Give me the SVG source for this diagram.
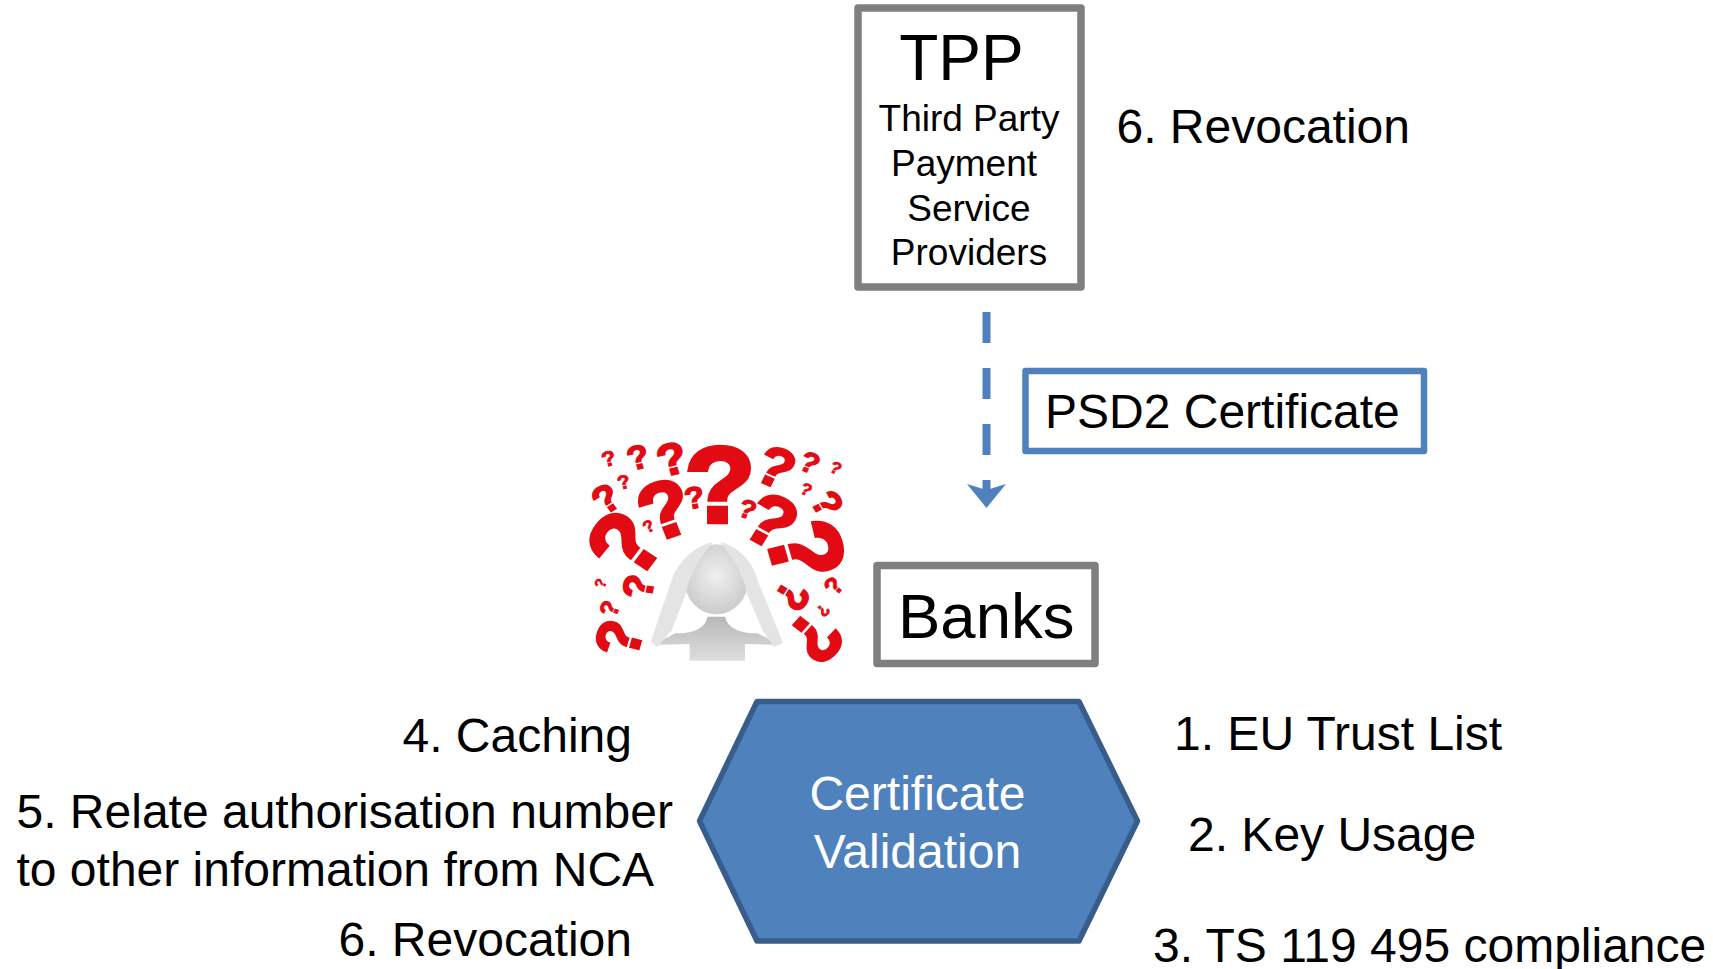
<svg xmlns="http://www.w3.org/2000/svg" width="1713" height="969" viewBox="0 0 1713 969">
<style>
text{font-family:"Liberation Sans",Arial,sans-serif;fill:#000}
.box{fill:#fff;stroke:#7f7f7f;stroke-width:7.5;stroke-linejoin:round}
.l{font-size:48px}
.s{font-size:37px;text-anchor:middle}
.q{font-weight:bold;fill:#e30b13;text-anchor:middle;stroke:#e30b13;stroke-width:.04em}
.p{fill:#e4e4e4}
</style>
<defs>
<radialGradient id="head" cx="0.5" cy="0.45" r="0.6"><stop offset="0" stop-color="#efefef"/><stop offset="1" stop-color="#c8c8c8"/></radialGradient>
<linearGradient id="body" x1="0" y1="0" x2="0" y2="1"><stop offset="0" stop-color="#b8b8b8"/><stop offset="1" stop-color="#dedede"/></linearGradient>
</defs>
<g id="connectors">
<line x1="986.500" y1="312" x2="986.500" y2="496" stroke="#4f81bd" stroke-width="8" stroke-dasharray="31 25"/>
<path d="M967,484 L986.500,490 L1006,484 L986.500,508 Z" fill="#4f81bd"/>
</g>
<g id="tpp">
<rect class="box" x="858" y="8" width="223" height="279"/>
<text x="961.500" y="80" font-size="64" text-anchor="middle">TPP</text>
<text class="s" x="969" y="131">Third Party</text>
<text class="s" x="964" y="176">Payment</text>
<text class="s" x="969" y="221">Service</text>
<text class="s" x="969" y="265">Providers</text>
</g>
<g id="label-revocation-top"><text class="l" x="1116.500" y="143">6. Revocation</text></g>
<g id="psd2">
<rect x="1025.500" y="371" width="398.500" height="80" fill="#fff" stroke="#4f81bd" stroke-width="6.500" stroke-linejoin="round"/>
<text class="l" x="1045" y="428">PSD2 Certificate</text>
</g>
<g id="confused-person" transform="translate(570,420) scale(.357,.3333)">
<path d="M385,590 L435,590 C440,625 480,640 525,640 L590,675 L490,672 L490,722 L335,722 L335,672 L232,675 L295,640 C345,640 380,625 385,590Z" fill="url(#body)"/>
<ellipse cx="410" cy="478" rx="90" ry="105" fill="url(#head)"/>
<path class="p" d="M400,366 C345,380 300,430 285,480 L226,665 L245,682 L285,630 L325,520 C335,460 360,420 400,366Z"/>
<path class="p" d="M420,366 C475,380 515,430 525,480 L597,668 L572,682 L540,632 L495,520 C485,460 460,420 420,366Z"/>
<g class="qs">
<text class="q" font-size="64" transform="translate(108,115) rotate(-15)" dy=".36em">?</text>
<text class="q" font-size="100" transform="translate(190,110) rotate(-15)" dy=".36em">?</text>
<text class="q" font-size="134" transform="translate(285,115) rotate(-15)" dy=".36em">?</text>
<text class="q" font-size="325" transform="translate(420,190)" dy=".36em">?</text>
<text class="q" font-size="165" transform="translate(578,140) rotate(25)" dy=".36em">?</text>
<text class="q" font-size="86" transform="translate(672,127) rotate(25)" dy=".36em">?</text>
<text class="q" font-size="50" transform="translate(745,143) rotate(25)" dy=".36em">?</text>
<text class="q" font-size="58" transform="translate(150,185) rotate(-15)" dy=".36em">?</text>
<text class="q" font-size="115" transform="translate(100,235) rotate(-35)" dy=".36em">?</text>
<text class="q" font-size="238" transform="translate(265,265) rotate(-20)" dy=".36em">?</text>
<text class="q" font-size="92" transform="translate(348,232) rotate(-10)" dy=".36em">?</text>
<text class="q" font-size="50" transform="translate(220,318) rotate(-30)" dy=".36em">?</text>
<text class="q" font-size="78" transform="translate(498,267) rotate(20)" dy=".36em">?</text>
<text class="q" font-size="50" transform="translate(662,208) rotate(25)" dy=".36em">?</text>
<text class="q" font-size="215" transform="translate(565,300) rotate(30)" dy=".36em">?</text>
<text class="q" font-size="112" transform="translate(722,250) rotate(60)" dy=".36em">?</text>
<text class="q" font-size="270" transform="translate(150,370) rotate(-55)" dy=".36em">?</text>
<text class="q" font-size="285" transform="translate(665,390) rotate(75)" dy=".36em">?</text>
<text class="q" font-size="44" transform="translate(85,490) rotate(-70)" dy=".36em">?</text>
<text class="q" font-size="118" transform="translate(190,500) rotate(-80)" dy=".36em">?</text>
<text class="q" font-size="72" transform="translate(110,565) rotate(-70)" dy=".36em">?</text>
<text class="q" font-size="72" transform="translate(738,497) rotate(-50)" dy=".36em">?</text>
<text class="q" font-size="125" transform="translate(625,530) rotate(120)" dy=".36em">?</text>
<text class="q" font-size="50" transform="translate(710,572) rotate(130)" dy=".36em">?</text>
<text class="q" font-size="175" transform="translate(135,655) rotate(-75)" dy=".36em">?</text>
<text class="q" font-size="205" transform="translate(690,655) rotate(130)" dy=".36em">?</text>
</g>
</g>
<g id="banks">
<rect class="box" x="877" y="565.500" width="218" height="98"/>
<text x="898" y="637.500" font-size="63.500">Banks</text>
</g>
<g id="certificate-validation">
<polygon points="757,701.500 1079,701.500 1137.500,821 1079,941 757,941 699.500,821" fill="#4f81bd" stroke="#385d8a" stroke-width="5.500" stroke-linejoin="round"/>
<text x="917.500" y="810" font-size="48" text-anchor="middle" style="fill:#fff">Certificate</text>
<text x="917.500" y="868" font-size="48" text-anchor="middle" style="fill:#fff">Validation</text>
</g>
<g id="labels-left">
<text class="l" x="402.500" y="752">4. Caching</text>
<text class="l" x="16.500" y="828">5. Relate authorisation number</text>
<text class="l" x="16.500" y="886">to other information from NCA</text>
<text class="l" x="338.500" y="956">6. Revocation</text>
</g>
<g id="labels-right">
<text class="l" x="1174" y="750">1. EU Trust List</text>
<text class="l" x="1188" y="851">2. Key Usage</text>
<text class="l" x="1153" y="962">3. TS 119 495 compliance</text>
</g>
</svg>
